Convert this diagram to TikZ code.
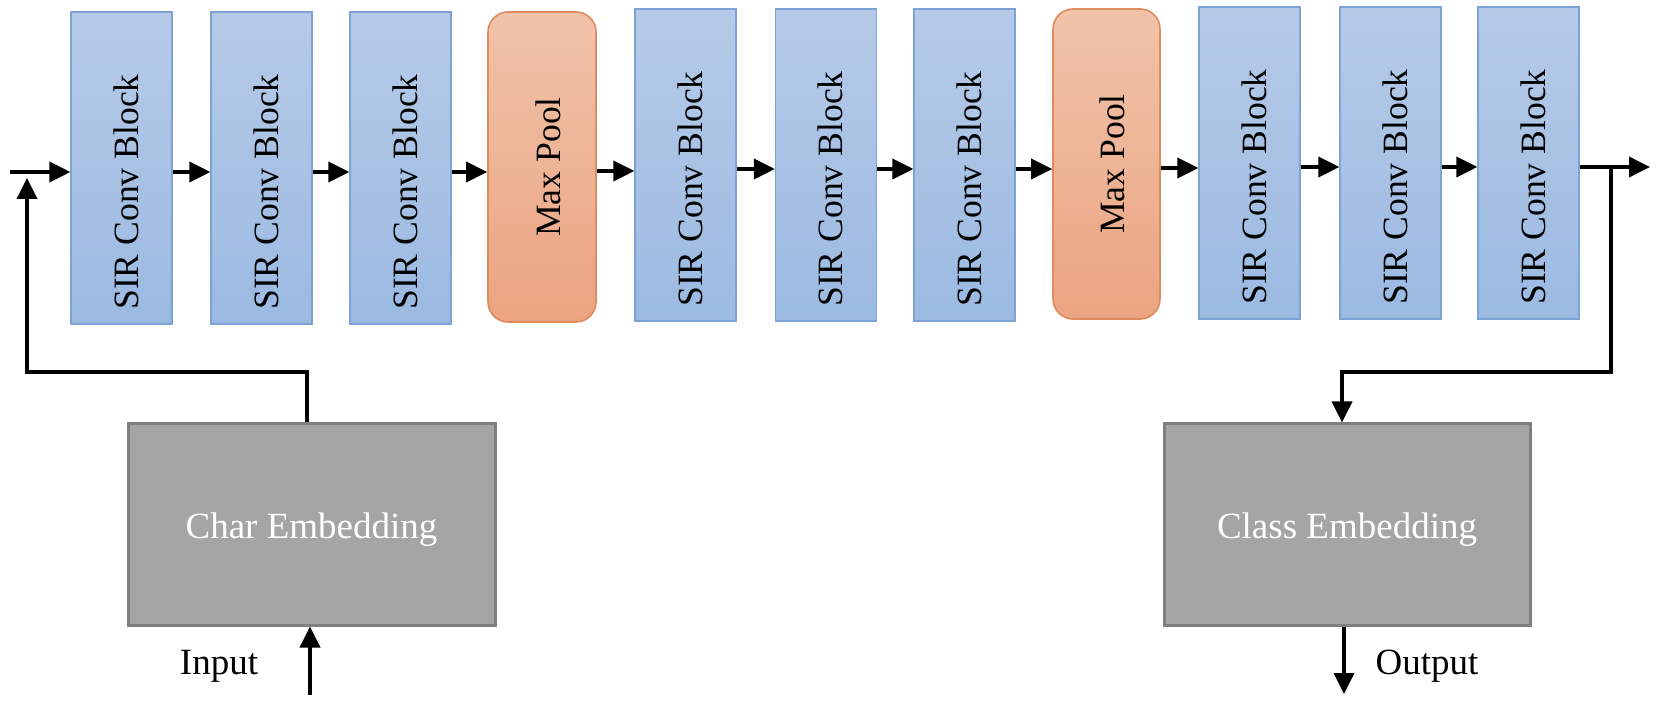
\documentclass[tikz,border=0pt]{standalone}
\usepackage{fontspec}
\setmainfont{Liberation Serif}
\usetikzlibrary{arrows.meta,calc}
\definecolor{convtop}{HTML}{B6CAE8}
\definecolor{convbot}{HTML}{9BBAE2}
\definecolor{convedge}{HTML}{7DA3D6}
\definecolor{pooltop}{HTML}{F0C3AA}
\definecolor{poolbot}{HTML}{EBA481}
\definecolor{pooledge}{HTML}{E08A5E}
\definecolor{embfill}{HTML}{A5A5A5}
\definecolor{embedge}{HTML}{7F7F7F}
\tikzset{
  conv/.style={draw=convedge, line width=0.6pt, top color=convtop, bottom color=convbot,
    minimum width=50.5pt, minimum height=156pt, inner sep=0pt},
  pool/.style={draw=pooledge, line width=0.8pt, rounded corners=10pt, top color=pooltop,
    bottom color=poolbot, minimum width=54pt, minimum height=155pt, inner sep=0pt},
  emb/.style={draw=embedge, line width=1.5pt, fill=embfill, minimum width=183.5pt,
    minimum height=100.5pt, inner sep=0pt, text=white, text height=18pt, text depth=4pt,
    font=\fontsize{18.5}{20}\selectfont},
  vlabel/.style={rotate=90, inner sep=0pt, font=\fontsize{17.8}{20}\selectfont},
  plain/.style={inner sep=0pt, font=\fontsize{18.5}{20}\selectfont},
  conn/.style={line width=1.8pt},
  arr/.style={conn, -{Triangle[length=10.5pt,width=10pt]}},
}
\begin{document}
\begin{tikzpicture}[x=0.5pt,y=-0.5pt]
\useasboundingbox (0,0) rectangle (1670,710);
% blocks
\node[conv] (b1) at (121.5,168) {};
\node[conv] (b2) at (261.5,168) {};
\node[conv] (b3) at (400.5,168) {};
\node[pool] (mp1) at (542,167) {};
\node[conv] (b4) at (685.5,165) {};
\node[conv] (b5) at (826,165) {};
\node[conv] (b6) at (964.5,165) {};
\node[pool, minimum width=53.5pt] (mp2) at (1106.5,164) {};
\node[conv] (b7) at (1249.5,163) {};
\node[conv] (b8) at (1390.5,163) {};
\node[conv] (b9) at (1528.5,163) {};
% labels
\foreach \b in {b1,b2,b3,b4,b5,b6,b7,b8,b9}{
  \node[vlabel] (\b t) at ([xshift=2.2pt,yshift=-12pt]\b.center) {SIR Conv Block};
}
\node[vlabel] (mp1t) at ([xshift=3pt]mp1.center) {Max Pool};
\node[vlabel] (mp2t) at ([xshift=3pt]mp2.center) {Max Pool};
% embeddings
\node[emb] (char) at (311.5,524.5) {Char Embedding};
\node[emb, minimum width=183pt] (cls) at (1347,524.5) {Class Embedding};
% chain arrows
\coordinate (in0) at (10,172);
\draw[arr] (in0) -- (in0 -| b1.west);
\foreach \a/\c in {b1/b2,b2/b3,b3/mp1,mp1/b4,b4/b5,b5/b6,b6/mp2,mp2/b7,b7/b8,b8/b9}{
  \draw[arr] ([yshift=-2pt]\a.east) -- ([yshift=-2pt]\a.east -| \c.west);
}
% output of chain
\coordinate (outtip) at (1650,167);
\draw[arr] ([yshift=-2pt]b9.east) -- (outtip);
% feedback from char embedding
\coordinate (fbc) at (27,372);
\coordinate (fbtip) at (27,178);
\draw[arr] ([xshift=-2.25pt]char.north) |- (fbc) -- (fbtip);
% input arrow
\coordinate (inbot) at (310,695);
\draw[arr] (inbot) -- (inbot |- char.south);
\node[plain] (inlbl) at (219,666) {Input};
% branch to class embedding
\coordinate (br) at (1611,167);
\coordinate (brc) at (1611,372);
\draw[arr] (br) -- (brc) -| ([xshift=-2.5pt]cls.north);
\coordinate (outbot) at (1344,694);
\draw[arr] (outbot |- cls.south) -- (outbot);
\node[plain] (outlbl) at (1427,666) {Output};
\end{tikzpicture}
\end{document}
